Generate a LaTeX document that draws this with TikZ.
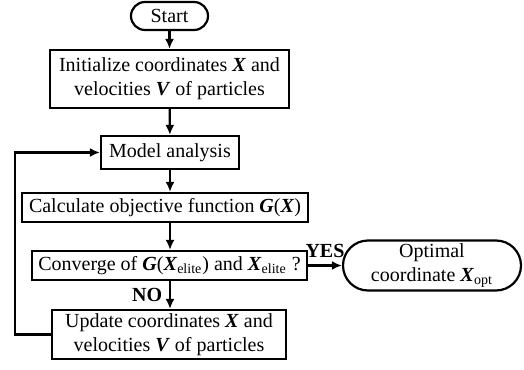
\documentclass[tikz,border=0pt]{standalone}
\usepackage{fontspec}
\setmainfont{Liberation Serif}
\usetikzlibrary{arrows.meta}
\newcommand{\bvar}[1]{\textbf{\textit{#1}}}

\begin{document}
\begin{tikzpicture}[x=0.5pt, y=-0.5pt, line width=1.1pt, font=\fontsize{10}{12}\selectfont]
\tikzset{boite/.style={draw, rectangle, inner sep=0pt, align=center}}
\tikzset{bout/.style={draw, rectangle, rounded corners=7pt, inner sep=0pt, align=center}}
\tikzset{fleche/.style={-{Latex[length=5pt, width=4.5pt]}}}
\useasboundingbox (0, 0) rectangle (524, 369);
\node[bout, minimum width=38.5pt, minimum height=14pt] (Start) at (169.5, 16) {Start};
\node[boite, minimum width=119.5pt, minimum height=29pt] (Init) at (169.5, 79) {Initialize coordinates \bvar{X} and\\velocities \bvar{V} of particles};
\node[boite, minimum width=69pt, minimum height=16.5pt] (Model) at (170, 152.5) {Model analysis};
\node[boite, minimum width=143pt, minimum height=14.5pt] (Calc) at (165, 207.5) {Calculate objective function \bvar{G}(\bvar{X})};
\node[boite, minimum width=137.5pt, minimum height=14.5pt] (Conv) at (169.5, 265.5) {Converge of \bvar{G}(\bvar{X}\textsubscript{elite}) and \bvar{X}\textsubscript{elite} ?};
\node[bout, rounded corners=12.5pt, minimum width=89pt, minimum height=25pt] (Opt) at (432, 265.5) {Optimal\\coordinate \bvar{X}\textsubscript{opt}};
\node[boite, minimum width=117pt, minimum height=24.5pt] (Update) at (169, 334.5) {Update coordinates \bvar{X} and\\velocities \bvar{V} of particles};
\coordinate (Retour) at (15, 0);
\draw[fleche] (Start) -- (Init);
\draw[fleche] (Init) -- (Model);
\draw[fleche] (Model.south) -- (Model.south |- Calc.north);
\draw[fleche] (Model.south |- Calc.south) -- (Model.south |- Conv.north);
\draw[fleche] (Model.south |- Conv.south) -- node[midway, left] {\textbf{NO}} (Model.south |- Update.north);
\draw[fleche] (Conv) -- node[midway, above] {\textbf{YES}} (Opt);
\draw[fleche] (Update.west) -- (Update.west -| Retour) |- (Model.west);
\end{tikzpicture}
\end{document}
